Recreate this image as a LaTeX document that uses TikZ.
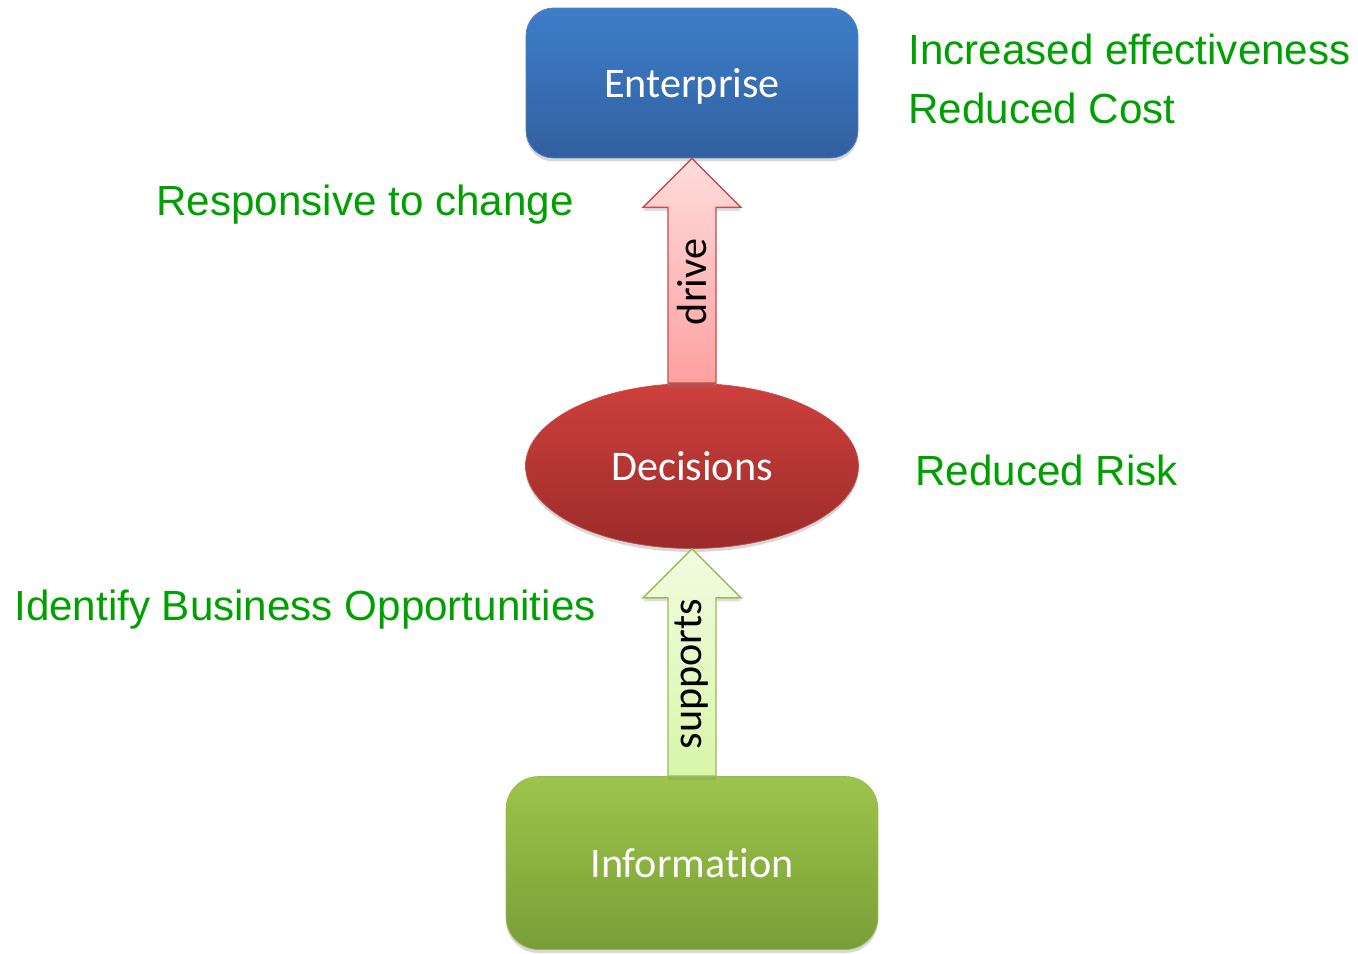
\documentclass[tikz,border=0pt]{standalone}
\usepackage{fontspec}
\setmainfont[Ligatures=CommonOff]{Carlito}
\newfontfamily\arialfont{Liberation Sans}
\usetikzlibrary{shapes.geometric,calc,shadows}

\definecolor{entTop}{RGB}{62,125,201}
\definecolor{entBot}{RGB}{50,96,160}
\definecolor{entLine}{RGB}{79,129,189}
\definecolor{decTop}{RGB}{205,64,61}
\definecolor{decBot}{RGB}{156,43,41}
\definecolor{decLine}{RGB}{192,80,77}
\definecolor{infTop}{RGB}{157,196,74}
\definecolor{infBot}{RGB}{121,158,55}
\definecolor{infLine}{RGB}{155,187,89}
\definecolor{drvTop}{RGB}{255,220,220}
\definecolor{drvBot}{RGB}{255,160,160}
\definecolor{supTop}{RGB}{242,251,224}
\definecolor{supBot}{RGB}{216,246,168}
\definecolor{gaintext}{RGB}{0,160,0}

\tikzset{
	block/.style={rounded corners=0.55cm, inner sep=0pt, text=white, text depth=0pt, font=\fontsize{24}{28}\selectfont,
		drop shadow={opacity=0.3, shadow xshift=0pt, shadow yshift=-2pt}},
	gain/.style={anchor=base west, inner sep=0pt, text=gaintext, font=\arialfont\fontsize{24}{28}\selectfont},
	blockarrow/.style={line width=0.8pt, line join=miter,
		drop shadow={opacity=0.25, shadow xshift=0pt, shadow yshift=-2pt}},
	arrowlabel/.style={rotate=90, inner sep=0pt, font=\fontsize{24}{28}\selectfont}
}

\begin{document}
\begin{tikzpicture}[x=0.02cm, y=-0.02cm]

	\useasboundingbox[fill=white] (0,0) rectangle (1358,953);

	\node 	(ent)		at	(692,83) 	[block, draw=entLine, top color=entTop, bottom color=entBot, minimum width=6.64cm, minimum height=3.0cm]{Enterprise};

	\node 	(dec)		at	(692,466) 	[ellipse, draw=decLine, top color=decTop, bottom color=decBot, text=white, inner sep=0pt, minimum width=6.66cm, minimum height=3.3cm, font=\fontsize{24}{28}\selectfont,
		drop shadow={opacity=0.3, shadow xshift=0pt, shadow yshift=-2pt}]{Decisions};

	\node 	(inf)		at	(692,863) 	[block, rounded corners=0.65cm, draw=infLine, top color=infTop, bottom color=infBot, minimum width=7.44cm, minimum height=3.46cm]{Information};

	% block arrows
	\draw[blockarrow, draw=decLine, top color=drvTop, bottom color=drvBot]
		($(dec.north)+(-24,0)$) -- ($(ent.south)+(-24,49)$) -- ($(ent.south)+(-49,49)$) -- (ent.south)
		-- ($(ent.south)+(49,49)$) -- ($(ent.south)+(24,49)$) -- ($(dec.north)+(24,0)$) -- cycle;
	\draw[blockarrow, draw=infLine, top color=supTop, bottom color=supBot]
		($(inf.north)+(-24,0)$) -- ($(dec.south)+(-24,49)$) -- ($(dec.south)+(-49,49)$) -- (dec.south)
		-- ($(dec.south)+(49,49)$) -- ($(dec.south)+(24,49)$) -- ($(inf.north)+(24,0)$) -- cycle;

	\node 	(drv)		at	($(dec.north)!0.45!(ent.south)$)	[arrowlabel]{drive};
	\node 	(sup)		at	($(inf.north)!0.45!(dec.south)$)	[arrowlabel]{supports};

	% gains
	\node 	(g1)		at	(908,65) 	[gain]{Increased effectiveness};
	\node 	(g2)		at	(908,123) 	[gain]{Reduced Cost};
	\node 	(g3)		at	(156,215) 	[gain]{Responsive to change};
	\node 	(g4)		at	(915,485) 	[gain]{Reduced Risk};
	\node 	(g5)		at	(14,620) 	[gain]{Identify Business Opportunities};

\end{tikzpicture}
\end{document}
